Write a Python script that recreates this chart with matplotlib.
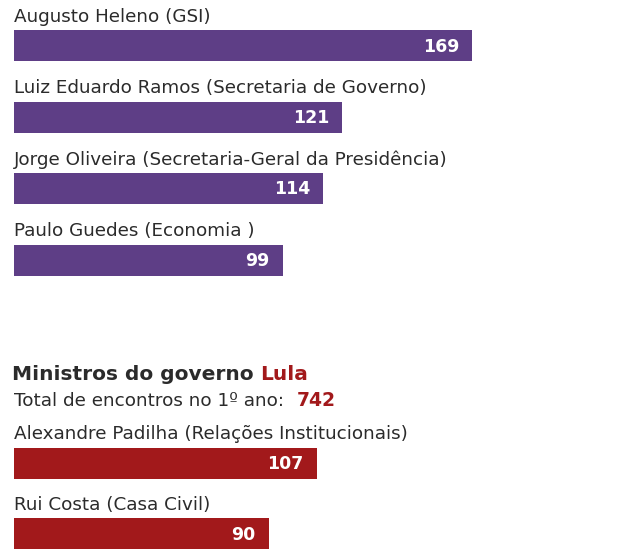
import matplotlib
matplotlib.use("Agg")
import matplotlib.pyplot as plt

# Dados
bolsonaro_nomes = ["Augusto Heleno (GSI)",
                   "Luiz Eduardo Ramos (Secretaria de Governo)",
                   "Jorge Oliveira (Secretaria-Geral da Presidência)",
                   "Paulo Guedes (Economia )"]
bolsonaro_encontros = [169, 121, 114, 99]

lula_nomes = ["Alexandre Padilha (Relações Institucionais)",
              "Rui Costa (Casa Civil)"]
lula_encontros = [107, 90]
lula_total = 742

ROXO = "#5e3e86"
VERMELHO = "#a2191b"
TEXTO = "#2b2b2b"
FONTE = "DejaVu Sans"

W, H = 640, 560
fig = plt.figure(figsize=(W / 100, H / 100), dpi=100)
fig.patch.set_facecolor("white")


def painel(nomes, valores, cor, topo_px, centro0_px, passo_px, escala, base_px):
    # eixo ocupando largura total a partir de x=14px
    x0 = 14
    largura = W - x0
    ax = fig.add_axes([x0 / W, 1 - base_px / H, largura / W, (base_px - topo_px) / H])
    y = list(range(len(valores)))
    ax.barh(y, valores, height=31 / passo_px, color=cor)
    ax.set_xlim(0, largura / escala)
    ymin = (topo_px - centro0_px) / passo_px
    ymax = (base_px - centro0_px) / passo_px
    ax.set_ylim(ymax, ymin)
    ax.axis("off")
    pad = 13 / escala
    for i, (n, v) in enumerate(zip(nomes, valores)):
        ax.text(0, i - 29 / passo_px, n, ha="left", va="center", fontsize=13.2,
                color=TEXTO, family=FONTE)
        ax.text(v - pad, i + 1 / passo_px, str(v), ha="right", va="center", fontsize=12.5,
                color="white", fontweight="bold", family=FONTE)
    return ax


painel(bolsonaro_nomes, bolsonaro_encontros, ROXO, 0, 45.5, 71.5, 2.713, 300)
painel(lula_nomes, lula_encontros, VERMELHO, 415, 463, 70.5, 2.828, 560)

# Título da seção Lula
t1 = fig.text(12 / W, 1 - 375 / H, "Ministros do governo ", ha="left", va="center",
              fontsize=14.5, fontweight="bold", color=TEXTO, family=FONTE)
plt.annotate("Lula", xy=(1, 0.5), xycoords=t1, ha="left", va="center",
             fontsize=14.5, fontweight="bold", color=VERMELHO, family=FONTE)

t2 = fig.text(14 / W, 1 - 401 / H, "Total de encontros no 1º ano: ", ha="left", va="center",
              fontsize=13.2, color=TEXTO, family=FONTE)
plt.annotate(str(lula_total), xy=(1, 0.5), xycoords=t2, xytext=(7, 0),
             textcoords="offset pixels", ha="left", va="center",
             fontsize=13.5, fontweight="bold", color=VERMELHO, family=FONTE)

fig.savefig("out.png", dpi=100, facecolor="white")
